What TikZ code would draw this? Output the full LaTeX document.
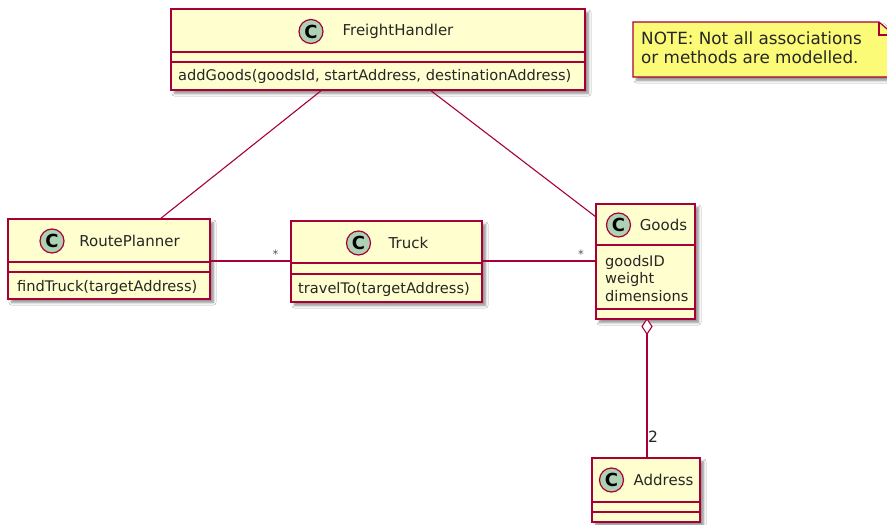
\documentclass[tikz,border=0pt]{standalone}
\usepackage{fontspec}
\setmainfont{DejaVu Sans}
\usetikzlibrary{shadows,shadows.blur,calc}
\definecolor{umlborder}{HTML}{A80036}
\definecolor{umlfill}{HTML}{FEFECE}
\definecolor{umlcircle}{HTML}{ADD1B2}
\definecolor{notefill}{HTML}{FBFB77}
\definecolor{labelgray}{HTML}{555555}
\begin{document}
\begin{tikzpicture}[x=1pt,y=-1pt,
  umlshadow/.style={blur shadow={shadow xshift=3.5pt, shadow yshift=-3.5pt, shadow blur radius=2.5pt, shadow blur steps=6, shadow opacity=45}},
  classbox/.style={draw=umlborder, fill=umlfill, line width=1.4pt, inner sep=0pt, umlshadow},
  sepline/.style={draw=umlborder, line width=1.4pt},
  assoc/.style={draw=umlborder, line width=1.1pt},
  cbadge/.style={circle, draw=umlborder, fill=umlcircle, line width=1.2pt, minimum size=24pt,
    inner sep=0pt, font=\fontsize{18}{18}\selectfont\bfseries},
  namefont/.style={inner sep=0pt, text=black!85, font=\fontsize{15}{18}\selectfont},
  memberfont/.style={inner sep=0pt, text=black!85, font=\fontsize{14.6}{17}\selectfont},
  multfont/.style={inner sep=0pt, text=labelgray, font=\fontsize{11.5}{13}\selectfont},
  numfont/.style={inner sep=0pt, text=black!85, font=\fontsize{15.5}{17}\selectfont},
  notebox/.style={draw=umlborder, fill=notefill, line width=1.2pt, umlshadow},
  notefont/.style={inner sep=0pt, text=black!85, align=left, font=\fontsize{16.8}{19}\selectfont}
]
\useasboundingbox (0,0) rectangle (887,525);
\path[clip] (0,0) rectangle (887,525);
\fill[white] (0,0) rectangle (887,525);

% ---------- FreightHandler
\node[classbox, minimum width=414pt, minimum height=81pt] (fh) at (378,49.5) {};
\draw[sepline] (fh.west |- 0,52) -- (fh.east |- 0,52);
\draw[sepline] (fh.west |- 0,62) -- (fh.east |- 0,62);
\node[cbadge] (fhc) at (311,31.5) {C};
\node[namefont] (fhn) at (398,31) {FreightHandler};
\node[memberfont, anchor=west] (fhm) at (178,76) {addGoods(goodsId, startAddress, destinationAddress)};

% ---------- RoutePlanner
\node[classbox, minimum width=202pt, minimum height=80pt] (rp) at (109,259) {};
\draw[sepline] (rp.west |- 0,262) -- (rp.east |- 0,262);
\draw[sepline] (rp.west |- 0,272) -- (rp.east |- 0,272);
\node[cbadge] (rpc) at (52,241) {C};
\node[namefont] (rpn) at (129.5,241) {RoutePlanner};
\node[memberfont, anchor=west] (rpm) at (17,287) {findTruck(targetAddress)};

% ---------- Truck
\node[classbox, minimum width=191pt, minimum height=81pt] (tr) at (386.5,261.5) {};
\draw[sepline] (tr.west |- 0,263) -- (tr.east |- 0,263);
\draw[sepline] (tr.west |- 0,274) -- (tr.east |- 0,274);
\node[cbadge] (trc) at (358.5,243) {C};
\node[namefont] (trn) at (408.5,243) {Truck};
\node[memberfont, anchor=west] (trm) at (298,289) {travelTo(targetAddress)};

% ---------- Goods
\node[classbox, minimum width=99pt, minimum height=115pt] (gd) at (645.5,261.5) {};
\draw[sepline] (gd.west |- 0,245) -- (gd.east |- 0,245);
\draw[sepline] (gd.west |- 0,309) -- (gd.east |- 0,309);
\node[cbadge] (gdc) at (618.5,225) {C};
\node[namefont] (gdn) at (663.5,225) {Goods};
\node[memberfont, anchor=west] (gda1) at (605,262) {goodsID};
\node[memberfont, anchor=west] (gda2) at (605,279) {weight};
\node[memberfont, anchor=west] (gda3) at (605,296) {dimensions};

% ---------- Address
\node[classbox, minimum width=108pt, minimum height=64pt] (ad) at (646,490) {};
\draw[sepline] (ad.west |- 0,502) -- (ad.east |- 0,502);
\draw[sepline] (ad.west |- 0,512) -- (ad.east |- 0,512);
\node[cbadge] (adc) at (611.5,480) {C};
\node[namefont] (adn) at (663.5,480) {Address};

% ---------- Note
\path[notebox] (633,22) -- (879,22) -- (894,35) -- (894,77) -- (633,77) -- cycle;
\draw[umlborder, line width=1.2pt] (879,22) -- (879,35) -- (894,35);
\node[notefont, anchor=north west] (note) at (641,31.5) {NOTE: Not all associations\\or methods are modelled.};

% ---------- Connectors
\coordinate (fhL) at (322,90);
\coordinate (fhR) at (430,90);
\coordinate (rpT) at (160,219);
\coordinate (gdT) at (596,217);
\coordinate (rpE) at (210,261);
\coordinate (trW) at (291,261);
\coordinate (trE) at (482,261);
\coordinate (gdW) at (596,261);
\coordinate (gdB) at (647,319);
\coordinate (dmB) at (647,334);
\coordinate (adT) at (647,458);

\draw[assoc] (fhL) -- (rpT);
\draw[assoc] (fhR) -- (gdT);
\draw[assoc] (rpE) -- (trW);
\draw[assoc] (trE) -- (gdW);
\draw[assoc] (dmB) -- (adT);
\draw[assoc, fill=white] (gdB) -- ++(5,7.5) -- (dmB) -- ++(-5,-7.5) -- cycle;

\node[multfont] (m1) at (275.5,254) {*};
\node[multfont] (m2) at (581,254) {*};
\node[numfont] (m3) at (653,437) {2};
\end{tikzpicture}
\end{document}
